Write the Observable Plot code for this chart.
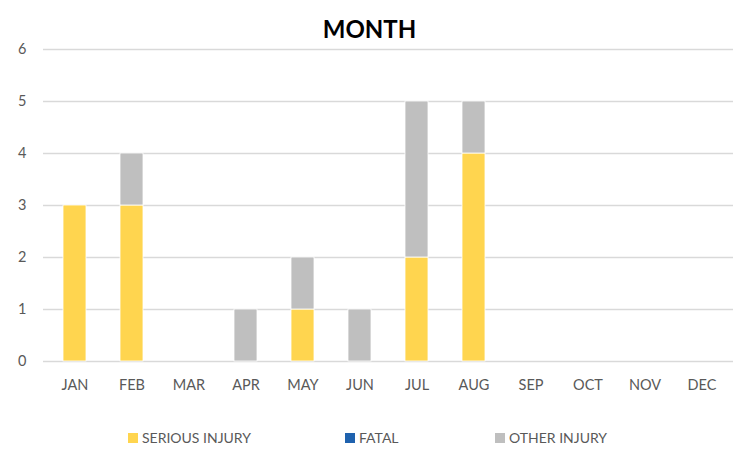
<!DOCTYPE html>
<html>
<head>
<meta charset="utf-8">
<script src="https://cdn.jsdelivr.net/npm/d3@7"></script>
<script src="https://cdn.jsdelivr.net/npm/@observablehq/plot@0.6"></script>
<style>
  html, body { margin: 0; padding: 0; background: #fff; width: 733px; height: 455px; overflow: hidden; font-family: Lato, "Open Sans", sans-serif; }
  #title { height: 40px; text-align: center; font-weight: bold; font-size: 24px; line-height: 40px; padding-top: 9px; box-sizing: border-box; color: #000; padding-left: 6px; }
  #chart svg { display: block; }
  #legend { position: relative; height: 50px; font-size: 14px; color: #595959; }
  .item { position: absolute; top: 24px; display: flex; align-items: center; }
  .sw { width: 10px; height: 10px; margin-right: 4px; }
</style>
</head>
<body>
<div id="title">MONTH</div>
<div id="chart"></div>
<div id="legend"></div>
<script>
const months = ["JAN","FEB","MAR","APR","MAY","JUN","JUL","AUG","SEP","OCT","NOV","DEC"];
const series = ["SERIOUS INJURY","FATAL","OTHER INJURY"];
const colors = ["#FFD54F","#1F62AE","#BFBFBF"];
const serious = [3,3,0,0,1,0,2,4,0,0,0,0];
const fatal   = [0,0,0,0,0,0,0,0,0,0,0,0];
const other   = [0,1,0,1,1,1,3,1,0,0,0,0];
const yTicks = [0,1,2,3,4,5,6];

const values = [serious, fatal, other];
const rows = [];
series.forEach((s, si) => months.forEach((m, mi) => rows.push({month: m, series: s, value: values[si][mi]})));

const chart = Plot.plot({
  width: 733,
  height: 365,
  marginTop: 9,
  marginBottom: 44,
  marginLeft: 43,
  marginRight: 0,
  style: {fontFamily: "Lato, 'Open Sans', sans-serif", fontSize: "14.5px", color: "#595959", background: "#fff"},
  x: {domain: months, paddingInner: 0.6, paddingOuter: 0.28, align: 0.5, label: null},
  y: {domain: [0, 6], label: null},
  color: {domain: series, range: colors},
  marks: [
    Plot.ruleY(yTicks, {stroke: "#D9D9D9", strokeWidth: 1.3}),
    Plot.barY(rows, {x: "month", y: "value", fill: "series", order: series, stroke: "#fff", strokeWidth: 0.8}),
    Plot.axisX({tickSize: 0, tickPadding: 18, fill: "#595959"}),
    Plot.axisY({ticks: yTicks, tickFormat: "d", tickSize: 0, tickPadding: 17, fill: "#595959"})
  ]
});
document.getElementById("chart").appendChild(chart);

const legend = document.getElementById("legend");
const lx = [128, 345, 495];
series.forEach((s, i) => {
  const d = document.createElement("div");
  d.className = "item";
  d.style.left = lx[i] + "px";
  d.innerHTML = `<span class="sw" style="background:${colors[i]}"></span><span>${s}</span>`;
  legend.appendChild(d);
});
</script>
</body>
</html>
